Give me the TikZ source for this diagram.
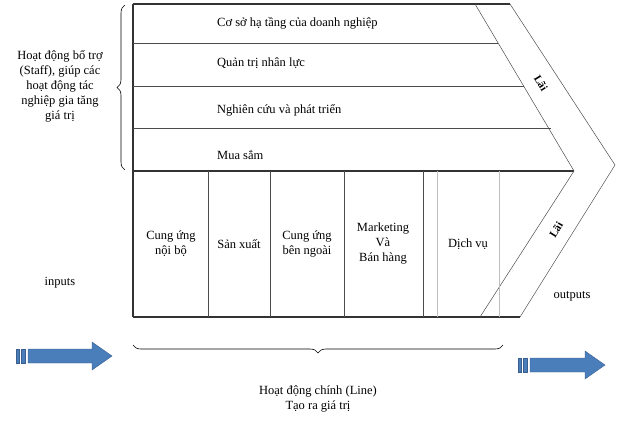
\documentclass[tikz,border=0pt]{standalone}
\usepackage{fontspec}
\setmainfont{Liberation Serif}
\usetikzlibrary{decorations.pathreplacing}
\definecolor{ablue}{HTML}{4A7EBB}
\definecolor{aborder}{HTML}{3A5F8F}
\begin{document}
\begin{tikzpicture}[x=1pt,y=-1pt,
  lbl/.style={font=\fontsize{12.5}{15}\selectfont, align=center, inner sep=1pt},
  frame/.style={line width=1.2pt, black!80},
  thin/.style={line width=0.5pt, black!70},
  faint/.style={line width=0.4pt, black!25},
  br/.style={decorate, decoration={brace, amplitude=8pt}, line width=0.6pt}]
\useasboundingbox (0,0) rectangle (617,440);
% frame
\draw[frame] (133,4) -- (510,4);
\draw[frame] (133,171) -- (574,171);
\draw[frame] (133,317) -- (520,317);
\draw[frame] (133,4) -- (133,317);
\draw[thin] (510,4) -- (615,165) -- (520,317);
\draw[thin] (475,4) -- (574,171) -- (480,317);
\draw[thin] (133,43) -- (498,43);
\draw[thin] (133,86) -- (524,86);
\draw[thin] (133,128) -- (551,128);
\foreach \x in {208,270,344,423} \draw[thin] (\x,171) -- (\x,317);
\draw[faint] (437,171) -- (437,317);
\draw[faint] (499,171) -- (499,317);
% support rows
\node[lbl, anchor=west] (r1) at (216,23) {Cơ sở hạ tầng của doanh nghiệp};
\node[lbl, anchor=west] (r2) at (216,63) {Quản trị nhân lực};
\node[lbl, anchor=west] (r3) at (216,110) {Nghiên cứu và phát triển};
\node[lbl, anchor=west] (r4) at (216,155) {Mua sắm};
% primary
\node[lbl] (p1) at (171,244) {Cung ứng\\nội bộ};
\node[lbl] (p2) at (239,244) {Sản xuất};
\node[lbl] (p3) at (307,244) {Cung ứng\\bên ngoài};
\node[lbl] (p4) at (383,244) {Marketing\\Và\\Bán hàng};
\node[lbl] (p5) at (468,244) {Dịch vụ};
\node[lbl, font=\fontsize{11}{13}\selectfont\bfseries, rotate=-58] (l1) at (541,83) {Lãi};
\node[lbl, font=\fontsize{11}{13}\selectfont\bfseries, rotate=58] (l2) at (556,230) {Lãi};
% left
\draw[br] (125,170) -- (125,5);
\node[lbl] (staff) at (60,86) {Hoạt động bổ trợ\\(Staff), giúp các\\hoạt động tác\\nghiệp gia tăng\\giá trị};
\node[lbl] (in) at (60,283) {inputs};
\node[lbl] (out) at (572,296) {outputs};
% bottom
\draw[br] (503,345) -- (133,345);
\node[lbl] (line) at (318,399) {Hoạt động chính (Line)\\Tạo ra giá trị};
% arrows
\foreach \ax/\ay/\hx/\tx in {16/356/92/112, 518/365/585/605}{
  \fill[ablue, draw=aborder] (\ax,\ay-7) rectangle (\ax+3,\ay+7);
  \fill[ablue, draw=aborder] (\ax+5,\ay-7) rectangle (\ax+9,\ay+7);
  \filldraw[fill=ablue, draw=aborder] (\ax+12,\ay-7) -- (\hx,\ay-7) -- (\hx,\ay-14) -- (\tx,\ay) -- (\hx,\ay+14) -- (\hx,\ay+7) -- (\ax+12,\ay+7) -- cycle;
}
\end{tikzpicture}
\end{document}
